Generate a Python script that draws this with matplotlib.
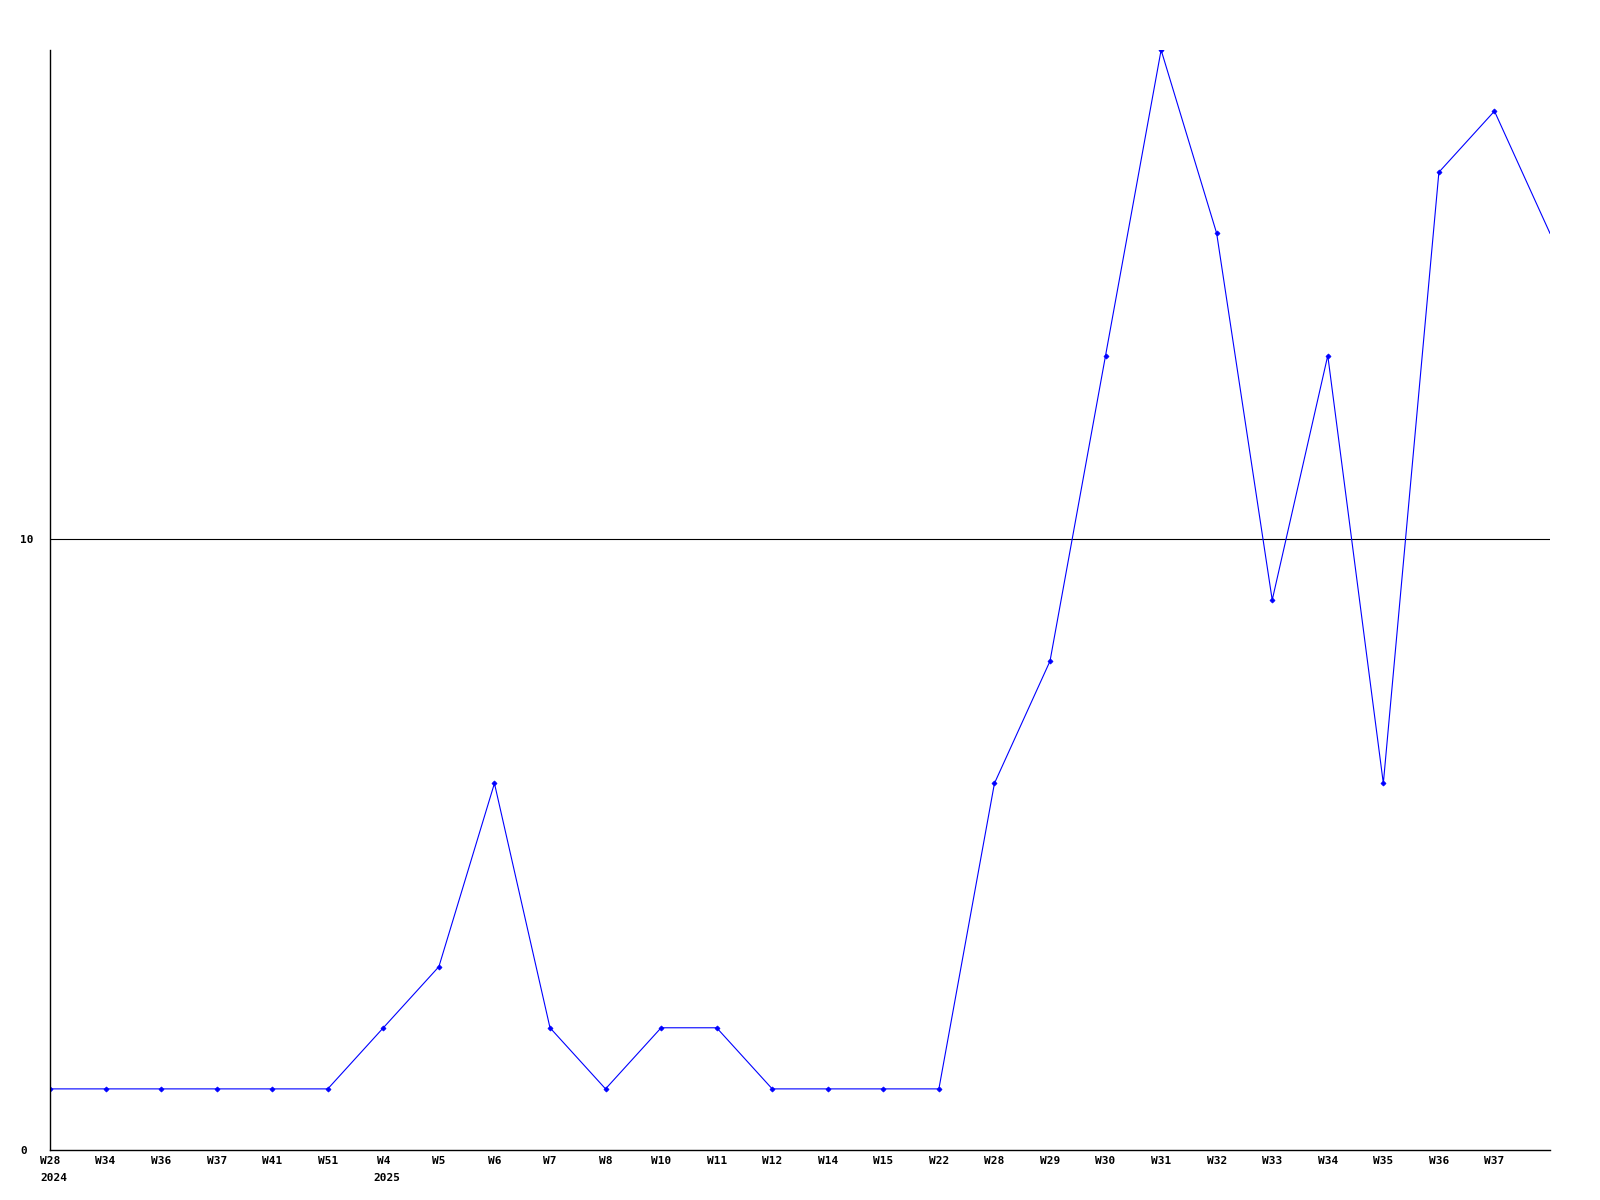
import matplotlib
matplotlib.use("Agg")
import matplotlib.pyplot as plt
from matplotlib.transforms import blended_transform_factory, offset_copy

week_labels = ["W28", "W34", "W36", "W37", "W41", "W51", "W4", "W5", "W6", "W7",
               "W8", "W10", "W11", "W12", "W14", "W15", "W22", "W28", "W29", "W30",
               "W31", "W32", "W33", "W34", "W35", "W36", "W37", ""]
year_labels = {0: "2024", 6: "2025"}
values = [1, 1, 1, 1, 1, 1, 2, 3, 6, 2,
          1, 2, 2, 1, 1, 1, 1, 6, 8, 13,
          18, 15, 9, 13, 6, 16, 17, 15]
y_ticks = [0, 10]

fig = plt.figure(figsize=(16, 12), dpi=100)
ax = fig.add_axes([50/1600, 50/1200, 1500/1600, 1100/1200])
x = list(range(len(values)))
ax.plot(x, values, color="#0000ff", lw=0.8, marker="D", ms=2.6,
        markevery=list(range(len(values) - 1)),
        markerfacecolor="#0000ff", markeredgecolor="#0000ff", markeredgewidth=0.5)
ax.set_xlim(0, len(values) - 1)
ax.set_ylim(0, 18)

for s in ["top", "right"]:
    ax.spines[s].set_visible(False)
for s in ["left", "bottom"]:
    ax.spines[s].set_linewidth(1.0)
    ax.spines[s].set_color("black")

font = dict(family="DejaVu Sans Mono", weight="bold", size=8)
ax.set_xticks(x)
ax.set_xticklabels(week_labels, **font)
ax.set_yticks(y_ticks)
ax.set_yticklabels([str(t) for t in y_ticks], ha="left", **font)
ax.tick_params(axis="both", length=0)
ax.tick_params(axis="x", pad=4)
ax.tick_params(axis="y", pad=21.5)

for t in y_ticks:
    if t > 0:
        ax.axhline(t, color="black", lw=0.8, zorder=0)

trans = blended_transform_factory(ax.transData, ax.transAxes)
for i, yr in year_labels.items():
    tr = offset_copy(trans, fig=fig, x=-10, y=-23, units="dots")
    ax.text(i, 0, yr, transform=tr, ha="left", va="top", **font)

fig.savefig("out.png", dpi=100)
